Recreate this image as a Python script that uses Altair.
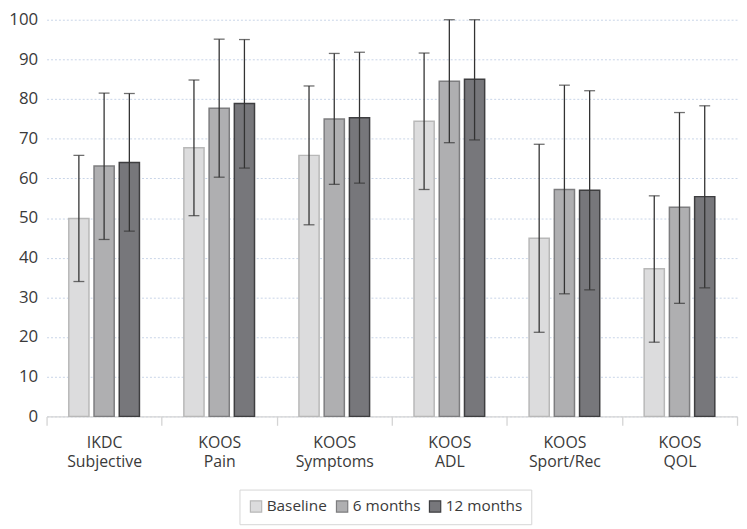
import altair as alt
import pandas as pd

categories = ["IKDC Subjective", "KOOS Pain", "KOOS Symptoms", "KOOS ADL", "KOOS Sport/Rec", "KOOS QOL"]
series = ["Baseline", "6 months", "12 months"]

baseline_mean = [49.9, 67.7, 65.8, 74.4, 44.9, 37.2]
baseline_lo = [34.0, 50.6, 48.3, 57.2, 21.2, 18.7]
baseline_hi = [65.8, 84.8, 83.3, 91.6, 68.6, 55.6]

m6_mean = [63.1, 77.7, 75.0, 84.5, 57.2, 52.7]
m6_lo = [44.6, 60.3, 58.5, 69.0, 30.9, 28.5]
m6_hi = [81.5, 95.1, 91.5, 100.0, 83.5, 76.6]

m12_mean = [64.0, 78.9, 75.3, 85.0, 57.0, 55.4]
m12_lo = [46.7, 62.6, 58.8, 69.7, 31.9, 32.4]
m12_hi = [81.4, 95.0, 91.8, 100.0, 82.1, 78.3]

fills = ["#dcdcdd", "#afafb1", "#77777b"]
strokes = ["#b8b8b8", "#7d7d7f", "#3e3e40"]

rows = []
for s, means, los, his in [
    ("Baseline", baseline_mean, baseline_lo, baseline_hi),
    ("6 months", m6_mean, m6_lo, m6_hi),
    ("12 months", m12_mean, m12_lo, m12_hi),
]:
    for c, m, lo, hi in zip(categories, means, los, his):
        rows.append({"category": c, "series": s, "mean": m, "lo": lo, "hi": hi})
df = pd.DataFrame(rows)

FONT = "Open Sans"

x_enc = alt.X(
    "category:N",
    sort=categories,
    scale=alt.Scale(paddingInner=0, paddingOuter=0),
    axis=alt.Axis(
        title=None,
        labelAngle=0,
        labelExpr="split(datum.label, ' ')",
        labelFontSize=16,
        labelFont=FONT,
        labelColor="#3a3a3a",
        labelLineHeight=20,
        labelPadding=9,
        tickBand="extent",
        tickSize=9,
        tickColor="#d4d4d4",
        tickWidth=1.3,
        domainColor="#d4d4d4",
        domainWidth=1.3,
        grid=False,
    ),
)
xoff = alt.XOffset(
    "series:N",
    sort=series,
    scale=alt.Scale(domain=series, paddingInner=0.2, paddingOuter=0.88),
)
y_scale = alt.Scale(domain=[0, 100], nice=False)
y_axis = alt.Axis(
    title=None,
    values=list(range(0, 101, 10)),
    labelFontSize=17,
    labelFont=FONT,
    labelColor="#3a3a3a",
    labelPadding=9,
    ticks=False,
    domain=False,
    grid=True,
    gridColor="#c8d5e8",
    gridDash=[2, 2],
    gridWidth=1,
)

legend_props = dict(
    orient="none",
    legendX=195,
    legendY=475,
    direction="horizontal",
    title=None,
    symbolType="square",
    symbolSize=130,
    symbolStrokeWidth=1.2,
    labelFontSize=15.5,
    labelFont=FONT,
    labelColor="#3a3a3a",
    labelOffset=3,
    columnPadding=6,
    strokeColor="#d6d6d6",
    fillColor="white",
    padding=9,
)

base = alt.Chart(df)

bars = base.mark_bar(strokeWidth=1.5).encode(
    x=x_enc,
    xOffset=xoff,
    y=alt.Y("mean:Q", scale=y_scale, axis=y_axis),
    fill=alt.Fill("series:N", sort=series, scale=alt.Scale(domain=series, range=fills), legend=alt.Legend(**legend_props)),
    stroke=alt.Stroke("series:N", sort=series, scale=alt.Scale(domain=series, range=strokes), legend=alt.Legend(**legend_props)),
)

rules = base.mark_rule(color="#333333", strokeWidth=1.3).encode(
    x=alt.X("category:N", sort=categories),
    xOffset=xoff,
    y=alt.Y("lo:Q", scale=y_scale),
    y2="hi:Q",
)

cap_lo = base.mark_tick(color="#333333", thickness=1.3, size=11, orient="horizontal").encode(
    x=alt.X("category:N", sort=categories),
    xOffset=xoff,
    y=alt.Y("lo:Q", scale=y_scale),
)
cap_hi = base.mark_tick(color="#333333", thickness=1.3, size=11, orient="horizontal").encode(
    x=alt.X("category:N", sort=categories),
    xOffset=xoff,
    y=alt.Y("hi:Q", scale=y_scale),
)

chart = (
    alt.layer(bars, rules, cap_lo, cap_hi)
    .properties(
        width=698,
        height=401,
        autosize=alt.AutoSizeParams(type="none"),
        padding={"left": 39, "top": 9, "right": 2, "bottom": 111},
        background="white",
    )
    .configure_view(stroke=None)
)

chart.save("out.html", embed_options={"renderer": "svg", "actions": False})
